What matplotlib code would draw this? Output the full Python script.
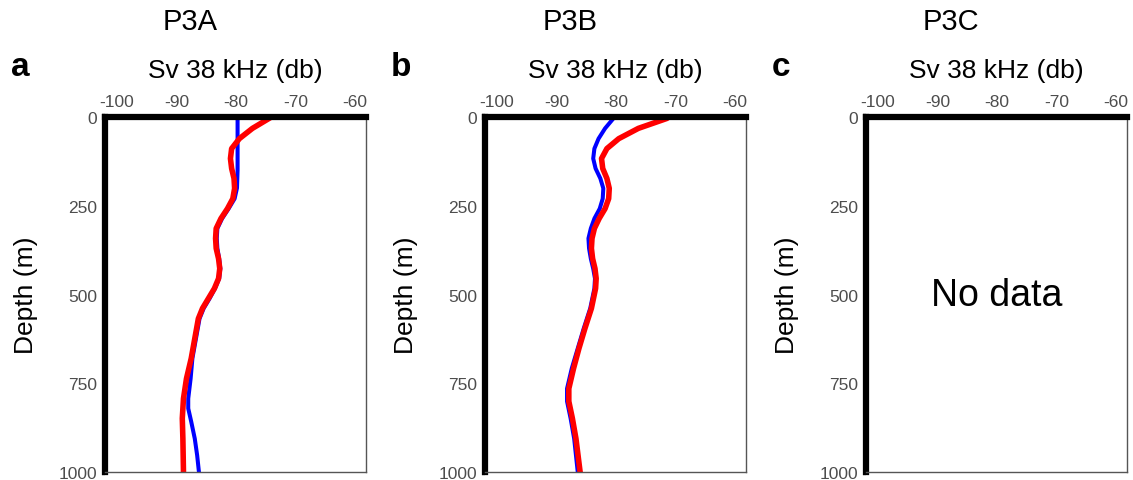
import matplotlib.pyplot as plt

plt.rcParams['font.family'] = ['Liberation Sans', 'DejaVu Sans']
plt.rcParams['axes.unicode_minus'] = False

# depth (m) and Sv (dB)
depth_a_red = [0, 4, 32, 61, 89, 117, 145, 173, 201, 230, 258, 286, 314, 342, 370, 399, 427, 455, 483, 511, 539, 568, 624, 680, 737, 793, 849, 906, 1000]
sv_a_red = [-74.0, -74.4, -77.2, -79.4, -80.7, -80.9, -80.7, -80.3, -80.2, -80.5, -81.4, -82.5, -83.3, -83.4, -83.3, -82.9, -82.7, -82.9, -83.6, -84.6, -85.6, -86.3, -86.9, -87.5, -88.3, -88.8, -89.0, -88.9, -88.8]
depth_a_blue = [0, 50, 100, 150, 200, 230, 258, 286, 314, 342, 370, 399, 427, 455, 483, 511, 539, 568, 624, 680, 737, 793, 821, 858, 906, 953, 1000]
sv_a_blue = [-79.7, -79.7, -79.7, -79.7, -79.8, -80.2, -81.2, -82.3, -83.1, -83.2, -83.1, -82.8, -82.6, -82.8, -83.5, -84.4, -85.4, -86.1, -86.7, -87.3, -87.6, -88.0, -88.0, -87.5, -86.9, -86.5, -86.2]

depth_b_red = [0, 4, 32, 61, 89, 117, 145, 173, 201, 230, 258, 286, 314, 342, 370, 399, 427, 455, 483, 539, 596, 652, 708, 765, 801, 849, 906, 1000]
sv_b_red = [-71.1, -71.4, -76.2, -79.5, -81.5, -82.4, -82.2, -81.5, -81.1, -81.2, -81.8, -82.8, -83.6, -84.0, -84.1, -83.9, -83.5, -83.3, -83.4, -84.1, -85.2, -86.2, -87.1, -87.9, -87.9, -87.3, -86.7, -86.0]
depth_b_blue = [0, 4, 32, 61, 89, 117, 145, 173, 201, 230, 258, 286, 314, 342, 370, 399, 427, 455, 483, 539, 596, 652, 708, 765, 801, 849, 906, 1000]
sv_b_blue = [-80.0, -80.4, -81.8, -82.9, -83.6, -83.8, -83.4, -82.6, -82.1, -82.2, -82.7, -83.6, -84.2, -84.6, -84.5, -84.2, -83.8, -83.5, -83.6, -84.3, -85.4, -86.4, -87.4, -88.2, -88.2, -87.6, -87.0, -86.4]

titles = ['P3A', 'P3B', 'P3C']
letters = ['a', 'b', 'c']
xticks = [-100, -90, -80, -70, -60]
yticks = [0, 250, 500, 750, 1000]

fig = plt.figure(figsize=(11.33, 4.81), dpi=100)
lefts = [105 / 1133, 485 / 1133, 866 / 1133]

for i in range(3):
    ax = fig.add_axes([lefts[i], 8 / 481, 261 / 1133, 355 / 481])
    if i == 0:
        ax.plot(sv_a_blue, depth_a_blue, color='#0000ff', lw=2.9, solid_joinstyle='round')
        ax.plot(sv_a_red, depth_a_red, color='#ff0000', lw=4.0, solid_joinstyle='round')
    elif i == 1:
        ax.plot(sv_b_blue, depth_b_blue, color='#0000ff', lw=2.9, solid_joinstyle='round')
        ax.plot(sv_b_red, depth_b_red, color='#ff0000', lw=4.0, solid_joinstyle='round')
    else:
        ax.text(-80, 500, 'No data', ha='center', va='center', fontsize=27)
    ax.set_xlim(-102, -58.1)
    ax.set_ylim(1000, 0)
    ax.set_xticks(xticks)
    ax.set_yticks(yticks)
    ax.xaxis.tick_top()
    ax.xaxis.set_label_position('top')
    ax.tick_params(axis='both', color='#333333', width=4.5, length=2.5, labelcolor='#4d4d4d', labelsize=12.5, pad=3)
    ax.spines['left'].set_linewidth(4.5)
    ax.spines['top'].set_linewidth(4.5)
    ax.spines['left'].set_color('black')
    ax.spines['top'].set_color('black')
    ax.spines['right'].set_linewidth(1.0)
    ax.spines['bottom'].set_linewidth(1.0)
    ax.spines['right'].set_color('#555555')
    ax.spines['bottom'].set_color('#555555')
    ax.set_xlabel('Sv 38 kHz (db)', fontsize=19)
    ax.set_ylabel('Depth (m)', fontsize=19)
    ax.xaxis.set_label_coords(0.5, 1.113)
    ax.yaxis.set_label_coords(-0.255, 0.5)
    fig.text(lefts[i] + 85 / 1133, 1 - 22 / 481, titles[i], fontsize=21, ha='center', va='center')
    fig.text(lefts[i] - 94 / 1133, 1 - 67 / 481, letters[i], fontsize=24, fontweight='bold', ha='left', va='center')

fig.savefig('out.png', dpi=100)
